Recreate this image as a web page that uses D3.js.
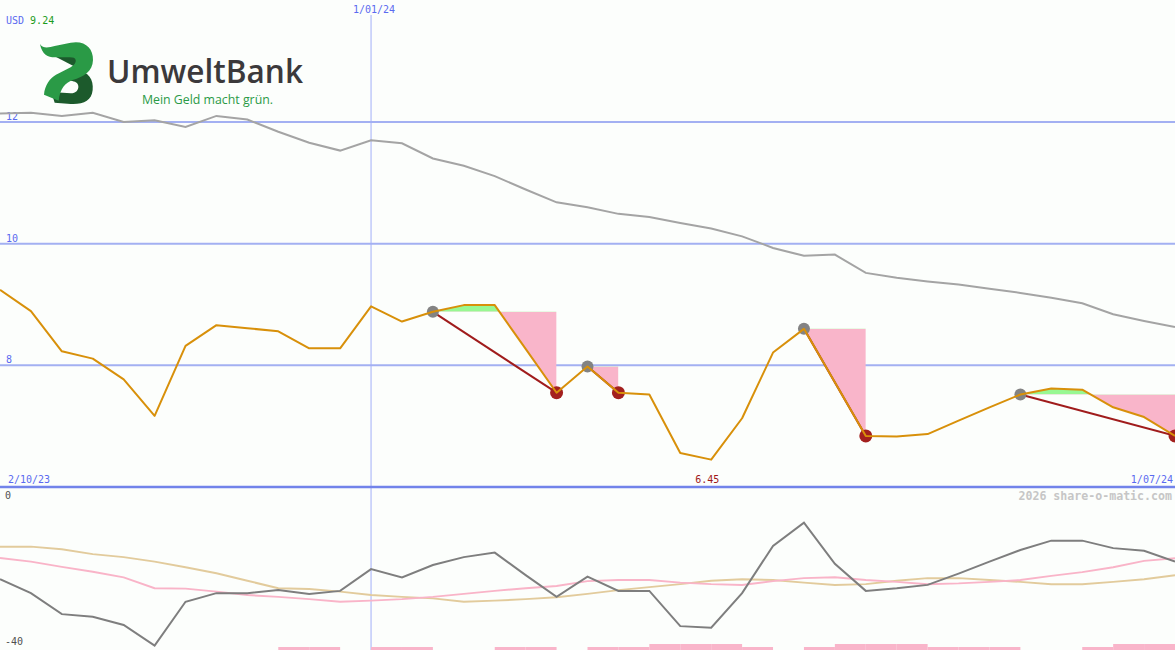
<!DOCTYPE html>
<html>
<head>
<meta charset="utf-8">
<script src="https://cdn.jsdelivr.net/npm/d3@7"></script>
<style>
html,body{margin:0;padding:0;background:#fcfefc;}
svg{display:block;}
text.mono{font-family:"DejaVu Sans Mono",monospace;}
text.logo{font-family:"Open Sans",sans-serif;}
</style>
</head>
<body>
<svg id="chart" width="1175" height="650"></svg>
<script>
// ---------- DATA ----------
const currency = "USD";
const lastQuote = "9.24";
const xTickIndex = [0, 12, 38];
const xTickLabels = ["2/10/23", "1/01/24", "1/07/24"];
const yTicks = [12, 10, 8];
const oscTicks = [0, -40];

const price = [9.24, 8.89, 8.23, 8.11, 7.77, 7.17, 8.32, 8.66, 8.61, 8.56,
  8.28, 8.28, 8.97, 8.72, 8.88, 8.99, 8.99, 8.27, 7.55, 7.98,
  7.55, 7.52, 6.56, 6.45, 7.13, 8.21, 8.60, 7.72, 6.84, 6.83,
  6.87, 7.09, 7.31, 7.52, 7.62, 7.60, 7.31, 7.15, 6.84];

const benchmark = [12.14, 12.15, 12.10, 12.15, 12.00, 12.03, 11.92, 12.10, 12.04, 11.84,
  11.66, 11.53, 11.70, 11.65, 11.40, 11.28, 11.11, 10.89, 10.68, 10.60,
  10.49, 10.44, 10.34, 10.25, 10.12, 9.93, 9.80, 9.82, 9.52, 9.44,
  9.38, 9.33, 9.26, 9.19, 9.11, 9.02, 8.84, 8.73, 8.63];

const oscillator = [-23.8, -27.5, -33.1, -33.8, -36.0, -41.5, -29.8, -27.5, -27.5, -26.7,
  -27.7, -26.9, -21.1, -23.3, -20.0, -17.9, -16.7, -22.7, -28.5, -23.1,
  -26.9, -26.9, -36.3, -36.7, -27.5, -14.9, -8.7, -19.7, -26.9, -26.2,
  -25.3, -22.3, -19.1, -16.0, -13.5, -13.5, -15.5, -16.2, -19.1];

const signalPink = [-18.1, -19.1, -20.5, -21.8, -23.3, -26.2, -26.3, -27.1, -28.0, -28.5,
  -29.1, -29.8, -29.5, -29.1, -28.5, -27.7, -26.9, -26.2, -25.6, -24.3,
  -24.0, -24.0, -24.7, -25.1, -25.3, -24.3, -23.5, -23.3, -24.0, -24.5,
  -25.1, -24.9, -24.5, -24.0, -22.9, -21.9, -20.6, -18.9, -18.2];

const signalTan = [-15.1, -15.1, -15.8, -17.1, -17.9, -19.1, -20.6, -22.2, -24.2, -26.2,
  -26.4, -27.1, -28.0, -28.5, -28.9, -29.8, -29.5, -29.1, -28.6, -27.7,
  -26.7, -25.9, -25.1, -24.2, -23.8, -24.0, -24.7, -25.3, -25.1, -24.2,
  -23.5, -23.5, -24.0, -24.5, -25.1, -25.1, -24.5, -23.8, -22.7];

// one value per interval between consecutive points
const holdBars = [0, 0, 0, 0, 0, 0, 0, 0, 0, 1, 1, 0, 1, 1, 0, 0, 1, 1, 0, 1,
  1, 2, 2, 2, 1, 0, 1, 2, 2, 2, 1, 1, 1, 0, 0, 1, 2, 2];

const tradeEntries = [14, 19, 26, 33];
const tradeExits = [18, 20, 28, 38];

// ---------- DRAW ----------
const W = 1175, H = 650;
const svg = d3.select("#chart");
svg.append("rect").attr("width", W).attr("height", H).attr("fill", "#fcfefc");

const x = d3.scaleLinear().domain([0, price.length - 1]).range([0, W]);
const y = d3.scaleLinear().domain([6, 12]).range([487, 122]);
const yo = d3.scaleLinear().domain([-40, 0]).range([640, 490]);
const yb = d3.scaleLinear().domain([0, 2]).range([650, 644]);

const idx = d3.range(price.length);

// horizontal gridlines
svg.append("g").selectAll("line").data(yTicks).join("line")
  .attr("x1", 0).attr("x2", W)
  .attr("y1", d => y(d)).attr("y2", d => y(d))
  .attr("stroke", "#a3b0f2").attr("stroke-width", 2);
svg.append("g").selectAll("text").data(yTicks).join("text")
  .attr("class", "mono")
  .attr("x", 6).attr("y", d => y(d) - 2)
  .attr("font-size", 10).attr("fill", "#5a6af0")
  .text(d => d);

// vertical year line
svg.append("line")
  .attr("x1", x(xTickIndex[1])).attr("x2", x(xTickIndex[1]))
  .attr("y1", 15).attr("y2", H)
  .attr("stroke", "#a3b0f8").attr("stroke-width", 1);

// bottom axis line
svg.append("line").attr("x1", 0).attr("x2", W)
  .attr("y1", y(6)).attr("y2", y(6))
  .attr("stroke", "#7283ea").attr("stroke-width", 2.5);

// x labels
svg.append("text").attr("class", "mono").attr("x", x(xTickIndex[0]) + 8).attr("y", 483)
  .attr("font-size", 10).attr("fill", "#5a6af0").text(xTickLabels[0]);
svg.append("text").attr("class", "mono").attr("x", x(xTickIndex[1]) + 3).attr("y", 13)
  .attr("text-anchor", "middle")
  .attr("font-size", 10).attr("fill", "#5a6af0").text(xTickLabels[1]);
svg.append("text").attr("class", "mono").attr("x", x(xTickIndex[2]) - 2).attr("y", 483)
  .attr("text-anchor", "end")
  .attr("font-size", 10).attr("fill", "#5a6af0").text(xTickLabels[2]);

// min label
const minIdx = d3.minIndex(price);
svg.append("text").attr("class", "mono").attr("x", x(minIdx) - 4).attr("y", 483)
  .attr("text-anchor", "middle")
  .attr("font-size", 10).attr("fill", "#a01818").text(d3.format(".2f")(price[minIdx]));

// watermark
svg.append("text").attr("class", "mono").attr("x", W - 3).attr("y", 500)
  .attr("text-anchor", "end").attr("font-size", 11.6).attr("font-weight", "bold")
  .attr("fill", "#c6c6c6").text("2026 share-o-matic.com");

// currency label
const cl = svg.append("text").attr("class", "mono").attr("x", 6).attr("y", 24).attr("font-size", 10);
cl.append("tspan").attr("fill", "#5a6af0").text(currency + " ");
cl.append("tspan").attr("fill", "#1c9c1c").text(lastQuote);

// oscillator labels
svg.append("g").selectAll("text").data(oscTicks).join("text")
  .attr("class", "mono")
  .attr("x", 5).attr("y", d => d === 0 ? yo(d) + 9 : yo(d) + 5)
  .attr("font-size", 10).attr("fill", "#505050")
  .text(d => d);

// benchmark line
svg.append("path").datum(idx)
  .attr("d", d3.line().x(i => x(i)).y(i => y(benchmark[i])))
  .attr("fill", "none").attr("stroke", "#a4a4a4").attr("stroke-width", 2);

// trade fills
const defs = svg.append("defs");
tradeEntries.forEach((e, k) => {
  const ex = tradeExits[k];
  const lvl = price[e];
  const seg = d3.range(e, ex + 1);
  const area = d3.area().x(i => x(i)).y0(y(lvl)).y1(i => y(price[i]));
  defs.append("clipPath").attr("id", "up" + k).append("rect")
    .attr("x", x(e)).attr("width", x(ex) - x(e))
    .attr("y", 0).attr("height", y(lvl));
  defs.append("clipPath").attr("id", "dn" + k).append("rect")
    .attr("x", x(e)).attr("width", x(ex) - x(e))
    .attr("y", y(lvl)).attr("height", H - y(lvl));
  svg.append("path").datum(seg).attr("d", area)
    .attr("fill", "#98f892").attr("clip-path", "url(#up" + k + ")");
  svg.append("path").datum(seg).attr("d", area)
    .attr("fill", "#f9b5ca").attr("clip-path", "url(#dn" + k + ")");
});

// trade lines
svg.append("g").selectAll("line").data(tradeEntries).join("line")
  .attr("x1", d => x(d)).attr("y1", d => y(price[d]))
  .attr("x2", (d, k) => x(tradeExits[k])).attr("y2", (d, k) => y(price[tradeExits[k]]))
  .attr("stroke", "#a01c1c").attr("stroke-width", 2);

// markers
svg.append("g").selectAll("circle").data(tradeEntries).join("circle")
  .attr("cx", d => x(d)).attr("cy", d => y(price[d])).attr("r", 6)
  .attr("fill", "#838383");
svg.append("g").selectAll("circle").data(tradeExits).join("circle")
  .attr("cx", d => x(d)).attr("cy", d => y(price[d])).attr("r", 6.5)
  .attr("fill", "#a3201e");

// price line
svg.append("path").datum(idx)
  .attr("d", d3.line().x(i => x(i)).y(i => y(price[i])))
  .attr("fill", "none").attr("stroke", "#d8900a").attr("stroke-width", 2)
  .attr("stroke-linejoin", "round");

// lower panel lines
svg.append("path").datum(idx)
  .attr("d", d3.line().x(i => x(i)).y(i => yo(signalTan[i])))
  .attr("fill", "none").attr("stroke", "#e2cb9c").attr("stroke-width", 2);
svg.append("path").datum(idx)
  .attr("d", d3.line().x(i => x(i)).y(i => yo(signalPink[i])))
  .attr("fill", "none").attr("stroke", "#f9b4c8").attr("stroke-width", 2);
svg.append("path").datum(idx)
  .attr("d", d3.line().x(i => x(i)).y(i => yo(oscillator[i])))
  .attr("fill", "none").attr("stroke", "#7e7e7e").attr("stroke-width", 2);

// hold bars
svg.append("g").selectAll("rect").data(holdBars.map((v, i) => ({v, i})).filter(d => d.v > 0)).join("rect")
  .attr("x", d => x(d.i)).attr("width", d => x(d.i + 1) - x(d.i))
  .attr("y", d => yb(d.v)).attr("height", d => yb(0) - yb(d.v))
  .attr("fill", "#f9b5ca");

// ---------- LOGO ----------
const logo = svg.append("g").attr("transform", "translate(36,36) scale(0.3333)");
logo.append("path")
  .attr("d", "M50,58 L136,56 L140,104 Z")
  .attr("fill", "#1c5a2c");
logo.append("path")
  .attr("d", "M100,108 C152,96 174,126 170,162 C167,194 142,206 104,204 L56,200 L46,168 L104,172 C120,172 128,162 127,150 C126,140 118,136 104,134 Z")
  .attr("fill", "#1c5a2c");
logo.append("path")
  .attr("d", "M12,24 C22,40 40,34 56,30 L104,20 C146,12 172,36 171,72 C170,106 144,122 110,132 C88,140 72,158 68,194 L24,176 C26,148 42,126 60,116 L104,94 C116,86 120,80 119,72 C118,66 112,64 102,64 L56,64 C36,64 18,56 12,24 Z")
  .attr("fill", "#2a9a46");

svg.append("text").attr("class", "logo").attr("x", 107).attr("y", 83)
  .style("font-family", "'Open Sans', sans-serif").attr("font-weight", 600)
  .attr("font-size", 32).attr("fill", "#3b393b")
  .attr("textLength", 196).attr("lengthAdjust", "spacingAndGlyphs")
  .text("UmweltBank");
svg.append("text").attr("class", "logo").attr("x", 142).attr("y", 104)
  .style("font-family", "'Open Sans', sans-serif").attr("font-weight", 500)
  .attr("font-size", 13.5).attr("fill", "#2a9a46")
  .attr("textLength", 131).attr("lengthAdjust", "spacingAndGlyphs")
  .text("Mein Geld macht grün.");
</script>
</body>
</html>
